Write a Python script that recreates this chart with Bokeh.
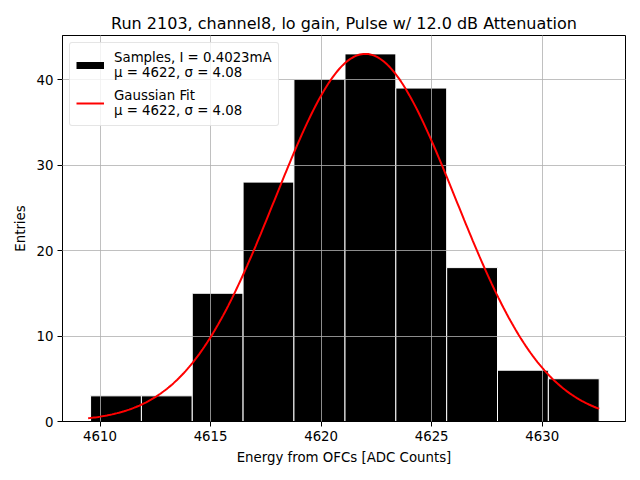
import numpy as np
from bokeh.plotting import figure
from bokeh.models import Range1d, FixedTicker, Legend, LegendItem, ColumnDataSource
from bokeh.embed import file_html
from bokeh.resources import INLINE

# ---- data ----
bin_edges = [4609.57, 4611.87, 4614.17, 4616.47, 4618.77, 4621.08,
             4623.38, 4625.68, 4627.98, 4630.28, 4632.58]
counts = [3, 3, 15, 28, 40, 43, 39, 18, 6, 5]

fit_mu = 4622.0
fit_sigma = 4.08
fit_amplitude = 43.0
fit_x_min = 4609.46
fit_x_max = 4632.58

x_ticks = [4610, 4615, 4620, 4625, 4630]
y_ticks = [0, 10, 20, 30, 40]

title_text = "Run 2103, channel8, lo gain, Pulse w/ 12.0 dB Attenuation"
sample_label = "Samples, I = 0.4023mA\n\u03bc = 4622, \u03c3 = 4.08"
fit_label = "Gaussian Fit\n\u03bc = 4622, \u03c3 = 4.08"

FONT = "DejaVu Sans"

p = figure(width=640, height=480, output_backend="svg", toolbar_location=None,
           x_range=Range1d(4608.30, 4633.77), y_range=Range1d(0, 45.15),
           min_border_left=62, min_border_right=15, min_border_top=35,
           min_border_bottom=59)

p.title.text = title_text
p.title.align = "center"
p.title.text_font = FONT
p.title.text_font_size = "12pt"
p.title.text_font_style = "normal"
p.title.text_color = "black"
p.title.standoff = 6

# histogram
src = ColumnDataSource(dict(left=bin_edges[:-1], right=bin_edges[1:],
                            top=counts, bottom=[0] * len(counts)))
bars = p.quad(left="left", right="right", top="top", bottom="bottom", source=src,
              fill_color="black", line_color="white", line_width=1)

# gaussian fit
fx = np.linspace(fit_x_min, fit_x_max, 300)
fy = fit_amplitude * np.exp(-0.5 * ((fx - fit_mu) / fit_sigma) ** 2)
fit = p.line(fx, fy, line_color="red", line_width=2)
fit.level = "annotation"

# legend proxy for the histogram patch (sits below the visible y range)
bar_proxy = p.line(x=[4620, 4621], y=[-100, -100], line_color="black",
                   line_width=7, line_cap="butt")

# axes
for ax in (p.xaxis[0], p.yaxis[0]):
    ax.major_tick_in = 0
    ax.major_tick_out = 5
    ax.minor_tick_line_color = None
    ax.major_label_text_font = FONT
    ax.major_label_text_font_size = "10pt"
    ax.major_label_text_color = "black"
    ax.axis_label_text_font = FONT
    ax.axis_label_text_font_size = "10pt"
    ax.axis_label_text_font_style = "normal"
    ax.axis_label_text_color = "black"
    ax.axis_line_color = "black"
    ax.major_tick_line_color = "black"
    ax.major_label_standoff = 4
    ax.axis_label_standoff = 6

p.xaxis.ticker = FixedTicker(ticks=x_ticks)
p.yaxis.ticker = FixedTicker(ticks=y_ticks)
p.xaxis.axis_label = "Energy from OFCs [ADC Counts]"
p.yaxis.axis_label = "Entries"

p.xgrid.ticker = FixedTicker(ticks=x_ticks)
p.ygrid.ticker = FixedTicker(ticks=y_ticks)
for g in (p.xgrid[0], p.ygrid[0]):
    g.grid_line_color = "#b0b0b0"
    g.grid_line_width = 0.8
    g.level = "guide"

p.outline_line_color = "black"
p.outline_line_width = 1
p.background_fill_color = "white"
p.border_fill_color = "white"

legend = Legend(items=[LegendItem(label=sample_label, renderers=[bar_proxy]),
                       LegendItem(label=fit_label, renderers=[fit])],
                location="top_left", margin=7, padding=6, spacing=6,
                glyph_width=28, glyph_height=32, label_standoff=10,
                label_height=32,
                label_text_font=FONT, label_text_font_size="10pt",
                label_text_color="black", label_text_line_height=1.25,
                border_line_color="#cccccc", border_line_width=1,
                background_fill_alpha=0.8)
try:
    legend.border_radius = 3
except Exception:
    pass
p.add_layout(legend)

open("out.html", "w").write(file_html(p, INLINE))
